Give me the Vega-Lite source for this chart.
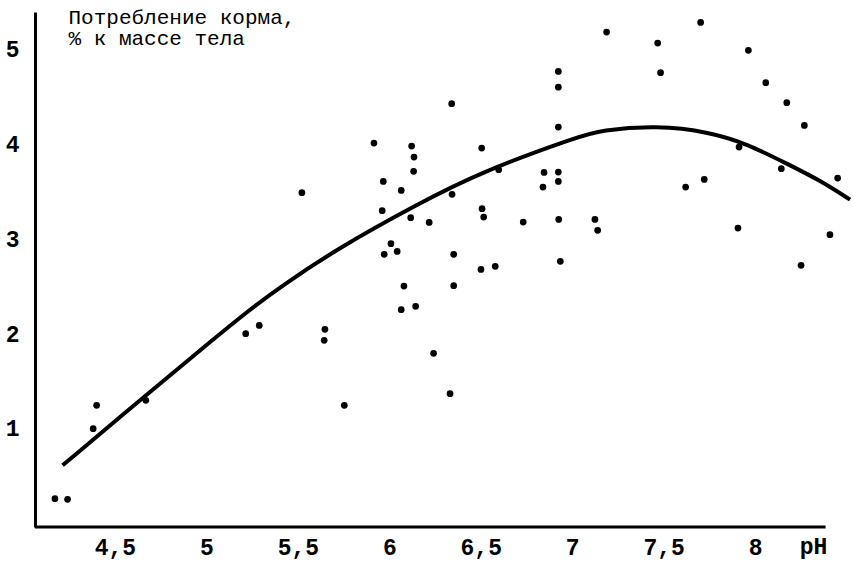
{
  "$schema": "https://vega.github.io/schema/vega-lite/v6.json",
  "width": 816,
  "height": 515,
  "autosize": {"type": "none"},
  "padding": {"left": 35, "top": 12, "right": 2, "bottom": 36},
  "background": "white",
  "config": {"view": {"stroke": null}},
  "datasets": {
    "pts": [
      {"ph": 4.172, "feed": 0.263}, {"ph": 4.241, "feed": 0.256}, {"ph": 4.400, "feed": 1.248},
      {"ph": 4.381, "feed": 1.002}, {"ph": 4.669, "feed": 1.301}, {"ph": 5.215, "feed": 2.005},
      {"ph": 5.289, "feed": 2.092}, {"ph": 6.341, "feed": 4.432}, {"ph": 6.924, "feed": 4.185},
      {"ph": 5.916, "feed": 4.016}, {"ph": 6.122, "feed": 3.985}, {"ph": 6.135, "feed": 3.869},
      {"ph": 6.505, "feed": 3.964}, {"ph": 6.133, "feed": 3.718}, {"ph": 6.598, "feed": 3.736},
      {"ph": 6.846, "feed": 3.707}, {"ph": 6.924, "feed": 3.710}, {"ph": 6.924, "feed": 3.612},
      {"ph": 6.840, "feed": 3.552}, {"ph": 5.522, "feed": 3.493}, {"ph": 5.967, "feed": 3.612},
      {"ph": 6.065, "feed": 3.517}, {"ph": 6.343, "feed": 3.475}, {"ph": 5.961, "feed": 3.303},
      {"ph": 6.507, "feed": 3.324}, {"ph": 6.516, "feed": 3.235}, {"ph": 6.117, "feed": 3.229},
      {"ph": 6.218, "feed": 3.179}, {"ph": 6.732, "feed": 3.183}, {"ph": 6.926, "feed": 3.211},
      {"ph": 6.009, "feed": 2.955}, {"ph": 5.972, "feed": 2.842}, {"ph": 6.043, "feed": 2.873},
      {"ph": 6.352, "feed": 2.842}, {"ph": 6.501, "feed": 2.683}, {"ph": 6.579, "feed": 2.715},
      {"ph": 6.935, "feed": 2.768}, {"ph": 6.080, "feed": 2.507}, {"ph": 6.352, "feed": 2.511},
      {"ph": 6.065, "feed": 2.258}, {"ph": 6.144, "feed": 2.293}, {"ph": 5.648, "feed": 2.050},
      {"ph": 5.644, "feed": 1.934}, {"ph": 6.242, "feed": 1.797}, {"ph": 6.332, "feed": 1.371},
      {"ph": 5.754, "feed": 1.248}, {"ph": 7.188, "feed": 5.188}, {"ph": 7.702, "feed": 5.290},
      {"ph": 7.467, "feed": 5.072}, {"ph": 7.963, "feed": 4.995}, {"ph": 7.483, "feed": 4.759},
      {"ph": 6.924, "feed": 4.773}, {"ph": 6.924, "feed": 4.607}, {"ph": 8.058, "feed": 4.654},
      {"ph": 8.173, "feed": 4.443}, {"ph": 8.269, "feed": 4.203}, {"ph": 7.912, "feed": 3.974},
      {"ph": 8.143, "feed": 3.746}, {"ph": 8.451, "feed": 3.647}, {"ph": 7.722, "feed": 3.633},
      {"ph": 7.620, "feed": 3.552}, {"ph": 7.124, "feed": 3.211}, {"ph": 7.139, "feed": 3.095},
      {"ph": 7.906, "feed": 3.119}, {"ph": 8.409, "feed": 3.050}, {"ph": 8.251, "feed": 2.726}
    ],
    "curve": [
      {"ph": 4.214, "feed": 0.615}, {"ph": 4.669, "feed": 1.354}, {"ph": 4.965, "feed": 1.829},
      {"ph": 5.220, "feed": 2.233}, {"ph": 5.402, "feed": 2.497}, {"ph": 5.730, "feed": 2.919},
      {"ph": 6.131, "feed": 3.348}, {"ph": 6.496, "feed": 3.710}, {"ph": 7.042, "feed": 4.090},
      {"ph": 7.152, "feed": 4.150}, {"ph": 7.462, "feed": 4.203}, {"ph": 7.753, "feed": 4.132},
      {"ph": 7.954, "feed": 4.010}, {"ph": 8.173, "feed": 3.799}, {"ph": 8.355, "feed": 3.623},
      {"ph": 8.519, "feed": 3.419}
    ],
    "baseline": [
      {"ph": 4.063, "ph2": 8.385, "feed": -0.036}
    ]
  },
  "encoding": {
    "x": {
      "field": "ph", "type": "quantitative",
      "scale": {"domain": [4.063, 8.524], "nice": false, "zero": false},
      "axis": {
        "values": [4.5, 5, 5.5, 6, 6.5, 7, 7.5, 8],
        "format": ".1~f",
        "labelExpr": "replace(datum.label, '.', ',')",
        "domain": false, "ticks": false, "grid": false,
        "labelPadding": 9,
        "labelFont": "Liberation Mono", "labelFontSize": 23, "labelFontWeight": "bold",
        "labelColor": "black",
        "title": "pH",
        "titleFont": "Liberation Mono", "titleFontSize": 23, "titleFontWeight": "bold",
        "titleColor": "black",
        "titleX": 778, "titleY": 19, "titleBaseline": "middle", "titleAlign": "center"
      }
    },
    "y": {
      "field": "feed", "type": "quantitative",
      "scale": {"domain": [-0.036, 5.4], "nice": false, "zero": false},
      "axis": {
        "values": [1, 2, 3, 4, 5],
        "domain": true, "domainColor": "black", "domainWidth": 3,
        "ticks": false, "grid": false,
        "labelPadding": 16,
        "labelFont": "Liberation Mono", "labelFontSize": 23, "labelFontWeight": "bold",
        "labelColor": "black",
        "title": ["Потребление корма,", "% к массе тела"],
        "titleFont": "Liberation Mono", "titleFontSize": 21, "titleFontWeight": "normal",
        "titleColor": "black",
        "titleAngle": 0, "titleAlign": "left", "titleBaseline": "top",
        "titleX": 33, "titleY": -6, "titleLineHeight": 21
      }
    }
  },
  "layer": [
    {
      "data": {"name": "baseline"},
      "mark": {"type": "rule", "color": "black", "strokeWidth": 3},
      "encoding": {"x2": {"field": "ph2"}}
    },
    {
      "data": {"name": "curve"},
      "mark": {"type": "line", "color": "black", "strokeWidth": 4, "interpolate": "basis"},
      "encoding": {}
    },
    {
      "data": {"name": "pts"},
      "mark": {"type": "point", "shape": "circle", "filled": true, "color": "black", "size": 45, "opacity": 1},
      "encoding": {}
    }
  ]
}
